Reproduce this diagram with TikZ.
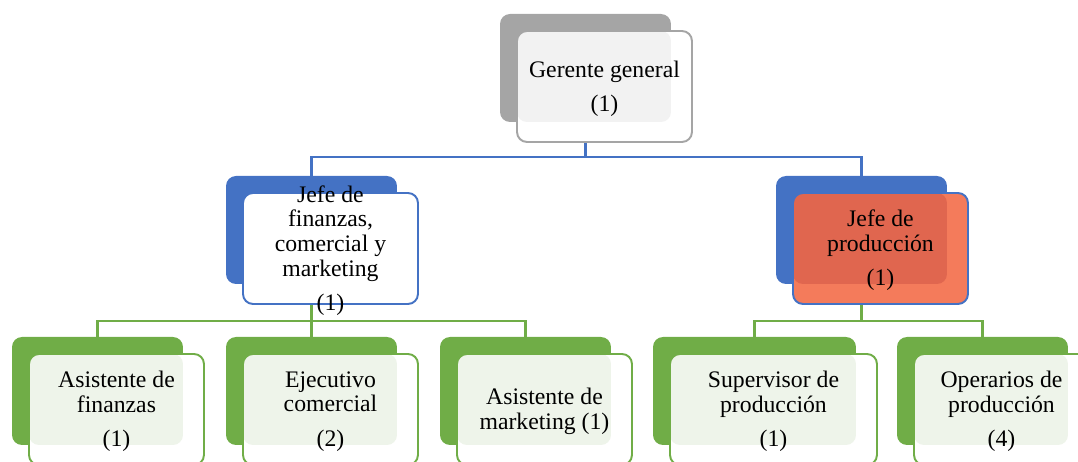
\documentclass[tikz,border=0pt]{standalone}
\usepackage{fontspec}
\setmainfont{Liberation Serif}
\usetikzlibrary{calc,backgrounds}
\definecolor{grisD}{HTML}{A5A5A5}
\definecolor{grisF}{HTML}{FFFFFF}
\definecolor{grisI}{HTML}{F2F2F2}
\definecolor{azulD}{HTML}{4472C4}
\definecolor{azulF}{HTML}{FFFFFF}
\definecolor{azulI}{HTML}{FFFFFF}
\definecolor{rojoD}{HTML}{4472C4}
\definecolor{rojoF}{HTML}{F47B5B}
\definecolor{rojoI}{HTML}{E0664F}
\definecolor{verdeD}{HTML}{70AD47}
\definecolor{verdeF}{HTML}{FFFFFF}
\definecolor{verdeI}{HTML}{EEF4EA}
\tikzset{
	backbox/.style={rectangle, rounded corners=0.2cm, minimum height=2.16cm, inner sep=0, outer sep=0, anchor=north west},
	frontbox/.style={rectangle, rounded corners=0.2cm, minimum height=2.22cm, inner sep=0, outer sep=0, anchor=north west, line width=1.1pt},
	unittext/.style={align=center, font=\fontsize{13.5}{14}\selectfont, inner sep=0, yshift=-0.04cm},
	bluelink/.style={draw=azulD, line width=1.4pt},
	greenlink/.style={draw=verdeD, line width=1.4pt}
}
% name, top left of back box, colour set, width, text
\newcommand{\orgunit}[5]{%
	\node[backbox, fill=#3D, minimum width=#4] (#1B) at (#2) {};
	\node[frontbox, draw=#3D, fill=#3F, minimum width=#4+0.08cm,
		path picture={\fill[#3I, rounded corners=0.2cm] (path picture bounding box.north west) rectangle (#1B.south east);}]
		(#1) at ($(#1B.north west)+(17,17)$) {};
	\node[unittext] (#1T) at (#1.center) {#5};
}
\begin{document}
\begin{tikzpicture}[x=0.02cm, y=-0.02cm]
			%%%%% START %%%%%
			\clip (0,0) rectangle (1078,462);
			
			\orgunit{ger}{500,14}{gris}{3.42cm}{Gerente general\\[5.5pt](1)}
			
			\orgunit{fin}{226,176}{azul}{3.42cm}{Jefe de\\finanzas,\\comercial y\\marketing\\[5.5pt](1)}
			\orgunit{prod}{776,176}{rojo}{3.42cm}{Jefe de\\producción\\[5.5pt](1)}
			
			\orgunit{asf}{12,337}{verde}{3.42cm}{Asistente de\\finanzas\\[5.5pt](1)}
			\orgunit{ejc}{226,337}{verde}{3.42cm}{Ejecutivo\\comercial\\[5.5pt](2)}
			\orgunit{asm}{440,337}{verde}{3.42cm}{Asistente de\\marketing (1)}
			\orgunit{sup}{653,337}{verde}{4.06cm}{Supervisor de\\producción\\[5.5pt](1)}
			\orgunit{ope}{897,337}{verde}{3.42cm}{Operarios de\\producción\\[5.5pt](4)}
			
			\begin{pgfonlayer}{background}
			\draw[bluelink] (gerB.south) -- ++(0,35) -| (finB.north);
			\draw[bluelink] (gerB.south) -- ++(0,35) -| (prodB.north);
			
			\draw[greenlink] (finB.south) -- ++(0,37) -| (asfB.north);
			\draw[greenlink] (finB.south) -- ++(0,37) -| (ejcB.north);
			\draw[greenlink] (finB.south) -- ++(0,37) -| (asmB.north);
			
			\draw[greenlink] (prodB.south) -- ++(0,37) -| (supB.north);
			\draw[greenlink] (prodB.south) -- ++(0,37) -| (opeB.north);
			\end{pgfonlayer}
			%%%%% END %%%%%
\end{tikzpicture}
\end{document}
